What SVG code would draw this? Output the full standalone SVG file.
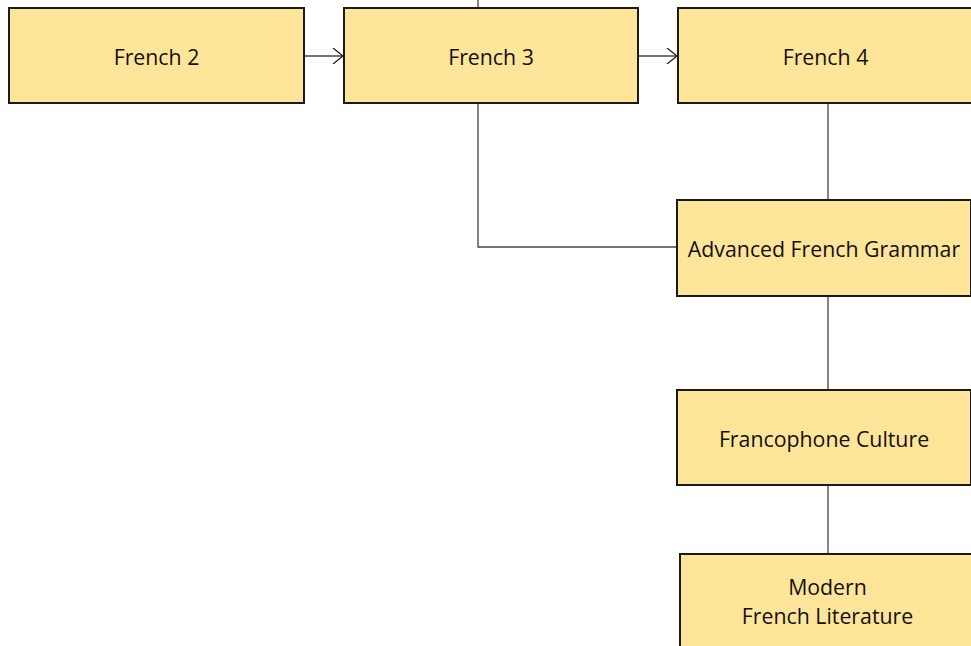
<svg xmlns="http://www.w3.org/2000/svg" width="971" height="646" viewBox="0 0 971 646">
<style>
.box{fill:#ffe599;stroke:#1a1a1a;stroke-width:2}
.lbl{font-family:"Open Sans","Noto Sans",sans-serif;font-size:21.3px;fill:#111;text-anchor:middle}
.edge{fill:none;stroke:#444;stroke-width:1.3}
</style>
<defs>
<marker id="arr" viewBox="0 0 12 16" refX="11" refY="8" markerWidth="12" markerHeight="16" markerUnits="userSpaceOnUse" orient="auto">
<path d="M1,0 L11,8 L1,16" fill="none" stroke="#222" stroke-width="1.3"/>
</marker>
</defs>
<g id="connectors">
<path class="edge" d="M478,0 V8"/>
<path class="edge" d="M304,56 H343" marker-end="url(#arr)"/>
<path class="edge" d="M638,56 H677" marker-end="url(#arr)"/>
<path class="edge" d="M478,103 V247 H677"/>
<path class="edge" d="M828,103 V200"/>
<path class="edge" d="M828,296 V390"/>
<path class="edge" d="M828,485 V554"/>
</g>
<g id="french2"><rect class="box" x="9" y="8" width="295" height="95"/><text class="lbl" x="156.5" y="65">French 2</text></g>
<g id="french3"><rect class="box" x="344" y="8" width="294" height="95"/><text class="lbl" x="491" y="65">French 3</text></g>
<g id="french4"><rect class="box" x="678" y="8" width="295" height="95"/><text class="lbl" x="825.5" y="65">French 4</text></g>
<g id="grammar"><rect class="box" x="677" y="200" width="294" height="96"/><text class="lbl" x="824" y="257">Advanced French Grammar</text></g>
<g id="culture"><rect class="box" x="677" y="390" width="294" height="95"/><text class="lbl" x="824" y="447">Francophone Culture</text></g>
<g id="literature"><rect class="box" x="680" y="554" width="295" height="100"/><text class="lbl" x="827.5" y="595">Modern</text><text class="lbl" x="827.5" y="624">French Literature</text></g>
</svg>
